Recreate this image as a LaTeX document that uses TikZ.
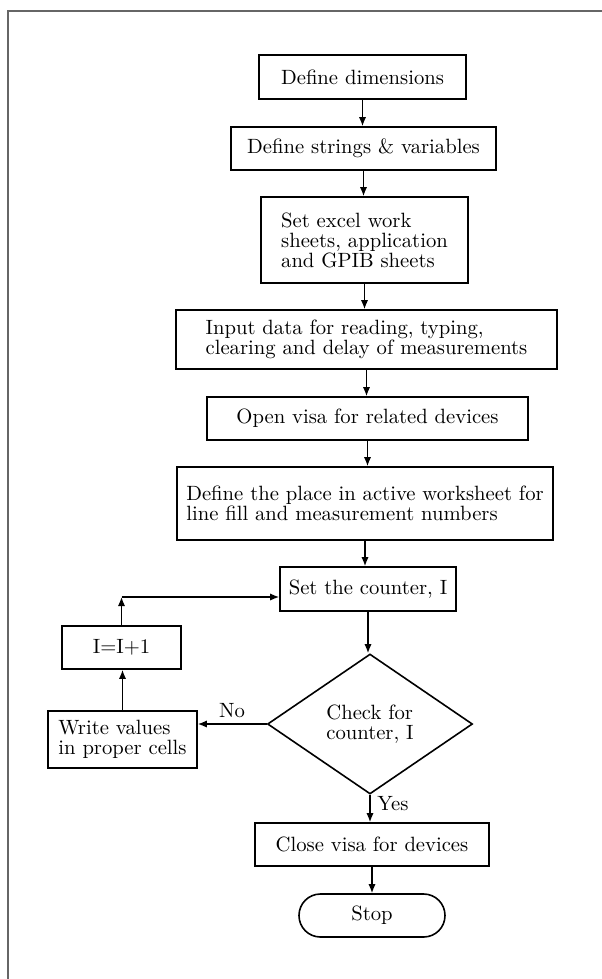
\documentclass[tikz,border=0pt]{standalone}
\usetikzlibrary{arrows.meta,shapes.geometric}
\begin{document}
\begin{tikzpicture}[x=0.5pt,y=-0.5pt,
  base/.style={draw, line width=0.8pt, inner sep=2pt, align=left, font=\fontsize{10.33}{10}\selectfont},
  box/.style={base, rectangle},
  dec/.style={base, diamond, inner sep=0pt},
  term/.style={base, rectangle, rounded corners=10.7pt},
  arr/.style={-{Latex[length=4.5pt,width=3.6pt]}, line width=0.7pt},
  lbl/.style={font=\fontsize{10.33}{10}\selectfont, inner sep=0pt},
  frameline/.style={line width=1.3pt, black!60}]
\useasboundingbox (0,0) rectangle (601,979);
\draw[frameline] (8,995) -- (8,11) -- (615,11);

\node[box, minimum width=103.5pt, minimum height=22pt] (b1) at (362.5,77) {Define dimensions};
\node[box, minimum width=132.5pt, minimum height=21.5pt] (b2) at (363.5,148.5) {Define strings \& variables};
\node[box, minimum width=103.5pt, minimum height=43pt] (b3) at (364.5,240) {Set excel work\\sheets, application\\and GPIB sheets};
\node[box, minimum width=190.5pt, minimum height=29.5pt] (b4) at (366.5,339.5) {Input data for reading, typing,\\clearing and delay of measurements};
\node[box, minimum width=160.5pt, minimum height=21.5pt] (b5) at (367.5,418.5) {Open visa for related devices};
\node[box, minimum width=188pt, minimum height=36.5pt] (b6) at (365,503.5) {Define the place in active worksheet for\\line fill and measurement numbers};
\node[box, minimum width=88pt, minimum height=22pt] (b7) at (368,589) {Set the counter, I};
\node[dec, minimum width=102.5pt, minimum height=70pt] (d) at (370,724) {Check for\\counter, I};
\node[box, minimum width=59.5pt, minimum height=21.5pt] (inc) at (121.5,647.5) {I=I+1};
\node[box, minimum width=74.5pt, minimum height=28.5pt] (wr) at (122.5,739.5) {Write values\\in proper cells};
\node[box, minimum width=117pt, minimum height=21.5pt] (cl) at (372,844.5) {Close visa for devices};
\node[term, minimum width=73pt, minimum height=21.5pt] (st) at (372,915.5) {Stop};

\node[lbl] (no) at (232,711) {No};
\node[lbl] (yes) at (393,804) {Yes};

\draw[arr] (b1.south) -- (b1.south |- b2.north);
\draw[arr] (b2.south) -- (b2.south |- b3.north);
\draw[arr] (b3.south) -- (b3.south |- b4.north);
\draw[arr] (b4.south) -- (b4.south |- b5.north);
\draw[arr] (b5.south) -- (b5.south |- b6.north);
\draw[arr] (b6.south) -- (b6.south |- b7.north);
\draw[arr] (b7.south) -- (b7.south |- d.north);
\draw[arr] (d.south) -- (d.south |- cl.north);
\draw[arr] (cl.south) -- (cl.south |- st.north);
\draw[arr] (d.west) -- (d.west -| wr.east);
\draw[arr] (wr.north) -- (wr.north |- inc.south);
\coordinate (lp) at ([yshift=-4pt]b7.west);
\draw[arr] (inc.north) -- (inc.north |- lp);
\draw[arr] (inc.north |- lp) -- (lp);
\end{tikzpicture}
\end{document}
